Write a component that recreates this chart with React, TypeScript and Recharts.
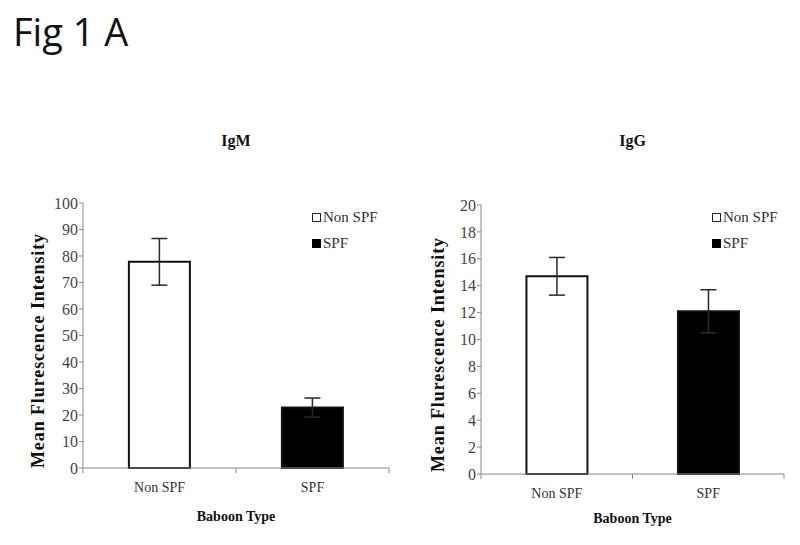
import { BarChart, Bar, XAxis, YAxis, ErrorBar, Cell, Legend, Label } from 'recharts';

const categories = ['Non SPF', 'SPF'];
const igmMeans = [77.8, 22.8];
const igmErrors = [8.8, 3.6];
const igmTicks = [0, 10, 20, 30, 40, 50, 60, 70, 80, 90, 100];
const iggMeans = [14.7, 12.1];
const iggErrors = [1.4, 1.6];
const iggTicks = [0, 2, 4, 6, 8, 10, 12, 14, 16, 18, 20];

const barFills = ['#ffffff', '#000000'];
const serif = '"Liberation Serif", "Times New Roman", serif';

function LegendBox() {
  return (
    <div style={{ fontFamily: serif, fontSize: 15, color: '#333' }}>
      {categories.map((c, i) => (
        <div key={c} style={{ display: 'flex', alignItems: 'center', height: 26 }}>
          <span
            style={{
              display: 'inline-block',
              width: i === 0 ? 7 : 9,
              height: i === 0 ? 7 : 9,
              background: barFills[i],
              border: i === 0 ? '1.5px solid #222' : 'none',
              marginRight: 2,
            }}
          />
          {c}
        </div>
      ))}
    </div>
  );
}

function YLabel(props: any) {
  const vb = props.viewBox;
  const cx = vb.x + 38;
  const cy = vb.y + vb.height / 2 + 15;
  return (
    <text
      x={cx}
      y={cy}
      transform={`rotate(-90, ${cx}, ${cy})`}
      textAnchor="middle"
      dominantBaseline="central"
      style={{ fontFamily: serif, fontWeight: 'bold', fontSize: 18, letterSpacing: 0.9, fill: '#111' }}
    >
      Mean Flurescence Intensity
    </text>
  );
}

// category label plus the Excel-style tick marks between categories
function CatTick(props: any) {
  const { x, y, payload, index, visibleTicksCount } = props;
  const half = payload.offset || 0;
  const last = index === visibleTicksCount - 1;
  return (
    <g>
      <line x1={x - half} x2={x - half} y1={y} y2={y + 5} stroke="#888" />
      {last && <line x1={x + half} x2={x + half} y1={y} y2={y + 5} stroke="#888" />}
      <text
        x={x}
        y={y + 19}
        textAnchor="middle"
        dominantBaseline="central"
        style={{ fontFamily: serif, fontSize: 14, fill: '#333' }}
      >
        {payload.value}
      </text>
    </g>
  );
}

interface PanelProps {
  title: string;
  means: number[];
  errors: number[];
  ticks: number[];
  left: number;
  yWidth: number;
  top: number;
  right: number;
  bottom: number;
  labelOffset: number;
}

function Panel({ title, means, errors, ticks, left, yWidth, top, right, bottom, labelOffset }: PanelProps) {
  const data = categories.map((c, i) => ({ type: c, mean: means[i], err: errors[i] }));
  const plotLeft = left + yWidth;
  const plotWidth = 400 - yWidth - right;
  return (
    <>
      <div
        style={{
          position: 'absolute',
          left: plotLeft,
          width: plotWidth,
          top: 132,
          textAlign: 'center',
          fontFamily: serif,
          fontWeight: 'bold',
          fontSize: 16,
          color: '#111',
        }}
      >
        {title}
      </div>
      <div style={{ position: 'absolute', left, top: 120 }}>
        <BarChart
          width={400}
          height={425}
          data={data}
          margin={{ top, right, bottom: 0, left: 0 }}
          barCategoryGap="30%"
        >
          <XAxis
            dataKey="type"
            height={bottom}
            stroke="#888"
            tickLine={false}
            tickSize={0}
            tickMargin={0}
            tick={<CatTick />}
          >
            <Label
              value="Baboon Type"
              position="insideBottom"
              offset={labelOffset}
              style={{ fontFamily: serif, fontWeight: 'bold', fontSize: 14, fill: '#111' }}
            />
          </XAxis>
          <YAxis
            width={yWidth}
            domain={[ticks[0], ticks[ticks.length - 1]]}
            ticks={ticks}
            interval={0}
            stroke="#888"
            tickSize={4}
            tick={{ fontFamily: serif, fontSize: 16, fill: '#444' }}
            tickMargin={1}
          >
            <Label content={YLabel} />
          </YAxis>
          <Legend
            verticalAlign="middle"
            align="center"
            layout="vertical"
            content={LegendBox}
            wrapperStyle={{ left: 312, top: 84, width: 90 }}
          />
          <Bar dataKey="mean" isAnimationActive={false} stroke="#111" strokeWidth={2}>
            {data.map((d, i) => (
              <Cell key={d.type} fill={barFills[i]} />
            ))}
            <ErrorBar dataKey="err" width={8} stroke="#2a2a2a" strokeWidth={1.5} direction="y" />
          </Bar>
        </BarChart>
      </div>
    </>
  );
}

export default function App() {
  return (
    <div style={{ position: 'absolute', left: 0, top: 0, width: 800, height: 545, background: '#fff', overflow: 'hidden' }}>
      <div
        style={{
          position: 'absolute',
          left: 13,
          top: 5,
          fontFamily: '"Open Sans", "Liberation Sans", sans-serif',
          fontSize: 38,
          color: '#111',
        }}
      >
        Fig 1 A
      </div>
      <Panel
        title="IgM"
        means={igmMeans}
        errors={igmErrors}
        ticks={igmTicks}
        left={0}
        yWidth={83}
        top={83}
        right={11}
        bottom={77}
        labelOffset={24}
      />
      <Panel
        title="IgG"
        means={iggMeans}
        errors={iggErrors}
        ticks={iggTicks}
        left={400}
        yWidth={81}
        top={85}
        right={16}
        bottom={71}
        labelOffset={22}
      />
    </div>
  );
}
